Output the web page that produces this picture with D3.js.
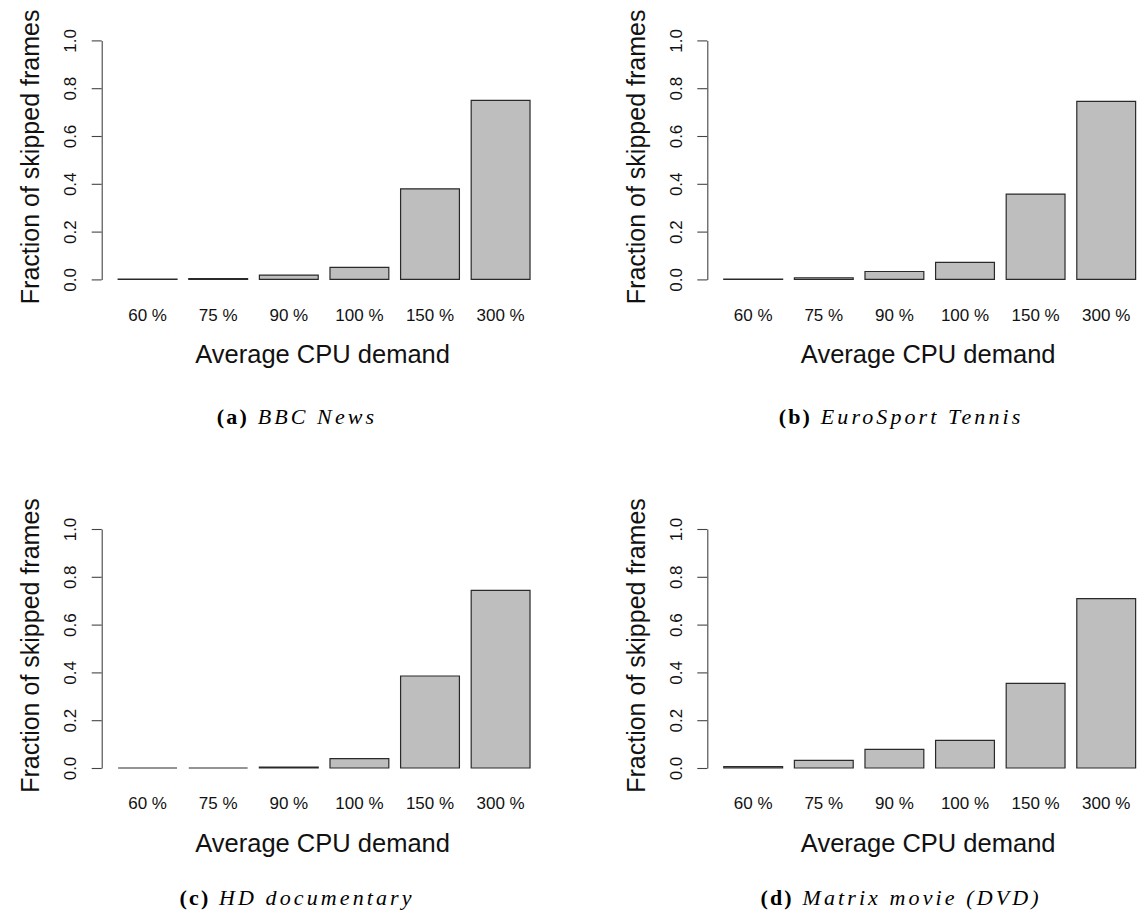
<!DOCTYPE html>
<html>
<head>
<meta charset="utf-8">
<script src="https://cdn.jsdelivr.net/npm/d3@7/dist/d3.min.js"></script>
<style>
  html, body { margin: 0; padding: 0; background: #fff; }
  svg { display: block; }
  .sans { font-family: "Liberation Sans", Arial, Helvetica, sans-serif; fill: #111; }
  .serif { font-family: "Liberation Serif", "Times New Roman", serif; fill: #000; }
</style>
</head>
<body>
<svg id="fig" width="1139" height="923"></svg>
<script>
// CPU demand levels on the x axis
const categories = ["60 %", "75 %", "90 %", "100 %", "150 %", "300 %"];

// Fraction of skipped frames per video clip
const bbcNews         = [0.001, 0.003, 0.018, 0.050, 0.379, 0.749];
const euroSportTennis = [0.001, 0.007, 0.033, 0.071, 0.357, 0.745];
const hdDocumentary   = [0.000, 0.000, 0.004, 0.039, 0.385, 0.743];
const matrixMovie     = [0.006, 0.032, 0.078, 0.116, 0.354, 0.709];

const yTicks = [0, 0.2, 0.4, 0.6, 0.8, 1.0];

const captionTags  = ["(a)", "(b)", "(c)", "(d)"];
const captionNames = ["BBC News", "EuroSport Tennis", "HD documentary", "Matrix movie (DVD)"];

const xTitle = "Average CPU demand";
const yTitle = "Fraction of skipped frames";

const panels = [
  { values: bbcNews,         col: 0, row: 0 },
  { values: euroSportTennis, col: 1, row: 0 },
  { values: hdDocumentary,   col: 0, row: 1 },
  { values: matrixMovie,     col: 1, row: 1 }
];

// layout of the 2x2 grid
const plotLeft   = [101.7, 707.3];   // x of the y-axis line per column
const plotWidth  = 444.8;
const zeroY      = [279.4, 768.0];   // y of value 0 per row
const oneY       = [40.4, 529.0];    // y of value 1 per row
const captionX   = [297, 901];
const captionY   = [424, 905];

const svg = d3.select("#fig");

panels.forEach((p, i) => {
  const x0 = plotLeft[p.col];
  const g = svg.append("g");

  // R barplot style: width 1, space 0.2, region padded 4%
  const x = d3.scaleBand()
    .domain(categories)
    .range([x0, x0 + plotWidth])
    .paddingInner(0.2 / 1.2)
    .paddingOuter(0.28 / 1.2);

  const y = d3.scaleLinear()
    .domain([0, 1])
    .range([zeroY[p.row], oneY[p.row]]);

  // bars as closed paths so that zero-height bars still show their outline
  g.selectAll("path.bar")
    .data(p.values)
    .join("path")
    .attr("class", "bar")
    .attr("d", (d, j) => {
      const bx = x(categories[j]), bw = x.bandwidth();
      const path = d3.path();
      path.moveTo(bx, y(0));
      path.lineTo(bx + bw, y(0));
      path.lineTo(bx + bw, y(d));
      path.lineTo(bx, y(d));
      path.closePath();
      return path.toString();
    })
    .attr("fill", "#bebebe")
    .attr("stroke", "#2a2a2a")
    .attr("stroke-width", 1.2);

  // y axis
  const yAxis = d3.axisLeft(y)
    .tickValues(yTicks)
    .tickFormat(d3.format(".1f"))
    .tickSize(10)
    .tickPadding(6)
    .tickSizeOuter(0);

  const ya = g.append("g")
    .attr("transform", `translate(${x0},0)`)
    .call(yAxis);
  ya.select(".domain").attr("stroke", "#444").attr("stroke-width", 1.1);
  ya.selectAll(".tick line").attr("stroke", "#444").attr("stroke-width", 1.1);
  ya.selectAll(".tick text")
    .attr("class", "sans")
    .attr("font-size", 17)
    .attr("x", null)
    .attr("dy", null)
    .attr("text-anchor", "middle")
    .attr("transform", "translate(-25.5,0) rotate(-90)");
  ya.attr("font-family", null).attr("font-size", null);

  // x category labels (no axis line)
  const xAxis = d3.axisBottom(x).tickSize(0).tickPadding(0);
  const xa = g.append("g")
    .attr("transform", `translate(0,${zeroY[p.row]})`)
    .call(xAxis);
  xa.select(".domain").remove();
  xa.selectAll(".tick text")
    .attr("class", "sans")
    .attr("font-size", 17)
    .attr("dy", null)
    .attr("y", 41.3);
  xa.attr("font-family", null).attr("font-size", null);

  // axis titles
  g.append("text")
    .attr("class", "sans")
    .attr("x", x0 + plotWidth / 2 - 1.5)
    .attr("y", zeroY[p.row] + 84)
    .attr("text-anchor", "middle")
    .attr("font-size", 25.5)
    .text(xTitle);

  g.append("text")
    .attr("class", "sans")
    .attr("transform", `translate(${x0 - 62.7},${y(0.5) - 3}) rotate(-90)`)
    .attr("text-anchor", "middle")
    .attr("font-size", 25)
    .text(yTitle);

  // sub-figure caption
  const cap = g.append("text")
    .attr("class", "serif")
    .attr("x", captionX[p.col])
    .attr("y", captionY[p.row])
    .attr("text-anchor", "middle")
    .attr("font-size", 22);
  cap.append("tspan")
    .attr("font-weight", "bold")
    .attr("letter-spacing", 2.2)
    .text(captionTags[i]);
  cap.append("tspan")
    .attr("font-style", "italic")
    .attr("letter-spacing", 3.1)
    .text(" " + captionNames[i]);
});
</script>
</body>
</html>
